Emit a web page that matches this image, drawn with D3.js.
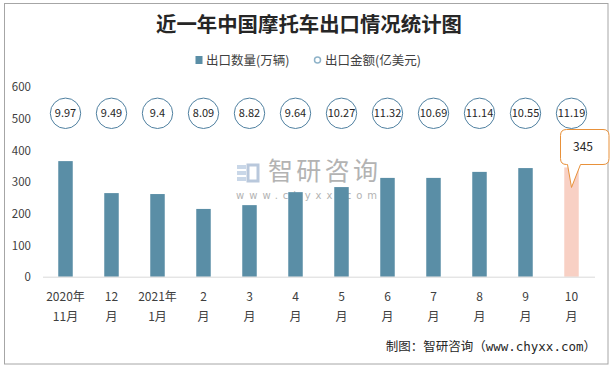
<!DOCTYPE html>
<html><head><meta charset="utf-8">
<script src="https://cdn.jsdelivr.net/npm/d3@7"></script>
<style>body{margin:0;background:#fff}svg{display:block}</style>
</head><body>
<script>
const categories = [["2020年","11月"],["12","月"],["2021年","1月"],["2","月"],["3","月"],["4","月"],["5","月"],["6","月"],["7","月"],["8","月"],["9","月"],["10","月"]];
const volume = [365, 264, 261, 214, 226, 267, 283, 312, 312, 331, 343, 345];
const amount = [9.97, 9.49, 9.4, 8.09, 8.82, 9.64, 10.27, 11.32, 10.69, 11.14, 10.55, 11.19];
const yTicks = [0, 100, 200, 300, 400, 500, 600];
const amountRow = 516;
const title = "近一年中国摩托车出口情况统计图";
const legendLabels = ["出口数量(万辆)", "出口金额(亿美元)"];
const source = "制图：智研咨询（www.chyxx.com）";

const W = 613, H = 368;
const svg = d3.select("body").append("svg").attr("width", W).attr("height", H);
const font = "'Microsoft YaHei','Noto Sans CJK SC',sans-serif";

svg.append("rect").attr("x", 4.5).attr("y", 3.5).attr("width", 603.5).attr("height", 360.5)
  .attr("fill", "#fff").attr("stroke", "#a6a6a6").attr("stroke-width", 1);

const x = d3.scaleBand().domain(d3.range(categories.length)).range([42.5, 594.5]).paddingInner(0.685).paddingOuter(0.3425);
const y = d3.scaleLinear().domain([0, 600]).range([276.7, 86.7]);

// watermark
const wm = svg.append("g");
wm.append("rect").attr("x", 237).attr("y", 165).attr("width", 9).attr("height", 4).attr("fill", "#c9d7e8");
wm.append("rect").attr("x", 237).attr("y", 171).attr("width", 9).attr("height", 4).attr("fill", "#c9d7e8");
wm.append("rect").attr("x", 237).attr("y", 177).attr("width", 9).attr("height", 4).attr("fill", "#c9d7e8");
wm.append("rect").attr("x", 248).attr("y", 165).attr("width", 10).attr("height", 16).attr("fill", "none").attr("stroke", "#b9c8dc").attr("stroke-width", 3);
wm.append("text").attr("x", 268).attr("y", 180).attr("font-family", font).attr("font-size", 25)
  .attr("fill", "#b3b3b3").attr("textLength", 110).text("智研咨询");
wm.append("text").attr("x", 236).attr("y", 199).attr("font-family", "'DejaVu Sans',sans-serif").attr("font-size", 10)
  .attr("fill", "#b3b3b3").attr("textLength", 141).attr("lengthAdjust", "spacing").text("www.chyxx.com");

// title
svg.append("text").attr("x", 309).attr("y", 32).attr("text-anchor", "middle")
  .attr("font-family", "'Noto Sans CJK SC',sans-serif").attr("font-weight", "bold").attr("font-size", 20.4)
  .attr("fill", "#262626").text(title);

// legend
svg.append("rect").attr("x", 195.5).attr("y", 56).attr("width", 7).attr("height", 8).attr("fill", "#5a8ea6");
svg.append("text").attr("x", 206).attr("y", 64.5).attr("font-family", font).attr("font-size", 12.5).attr("fill", "#404040").text(legendLabels[0]);
svg.append("circle").attr("cx", 317.5).attr("cy", 60).attr("r", 3).attr("fill", "#fff").attr("stroke", "#8fb3c9").attr("stroke-width", 1.5);
svg.append("text").attr("x", 325).attr("y", 64.5).attr("font-family", font).attr("font-size", 12.5).attr("fill", "#404040").text(legendLabels[1]);

// y axis
const yAxis = svg.append("g").attr("transform", "translate(31,0)")
  .call(d3.axisLeft(y).tickValues(yTicks).tickSize(0).tickPadding(0));
yAxis.select(".domain").remove();
yAxis.selectAll("text").attr("font-family", font).attr("font-size", 11.5).attr("fill", "#404040").attr("dy", "0.35em");

// bars
svg.append("g").selectAll("rect").data(volume).join("rect")
  .attr("x", (d, i) => x(i)).attr("width", x.bandwidth())
  .attr("y", d => y(d)).attr("height", d => y(0) - y(d))
  .attr("fill", (d, i) => i === volume.length - 1 ? "#f8d0c4" : "#5a8ea6");

// x axis
const xAxis = svg.append("g").attr("transform", `translate(0,${y(0)})`)
  .call(d3.axisBottom(x).tickSize(0).tickFormat(() => ""));
xAxis.select(".domain").attr("stroke", "#d9d9d9");
const xl = svg.append("g").selectAll("text").data(categories).join("text")
  .attr("x", (d, i) => x(i) + x.bandwidth() / 2).attr("y", 301)
  .attr("text-anchor", "middle").attr("font-family", font).attr("font-size", 12).attr("fill", "#404040");
xl.append("tspan").attr("x", (d, i) => x(i) + x.bandwidth() / 2).text(d => d[0]);
xl.append("tspan").attr("x", (d, i) => x(i) + x.bandwidth() / 2).attr("dy", 19.5).text(d => d[1]);

// amount circles
const cg = svg.append("g").selectAll("g").data(amount).join("g")
  .attr("transform", (d, i) => `translate(${x(i) + x.bandwidth() / 2},${y(amountRow)})`);
cg.append("circle").attr("r", 15.2).attr("fill", "#fff").attr("stroke", "#4f80a0").attr("stroke-width", 1);
cg.append("text").attr("text-anchor", "middle").attr("dy", "0.36em").attr("font-family", font)
  .attr("font-size", 11).attr("fill", "#262626").text(d => d);

// callout for last bar
const li = volume.length - 1;
const cx = x(li) + x.bandwidth() / 2;
const tipY = y(volume[li]) + 20;
const bx0 = cx - 11, bx1 = cx + 37.5, by0 = 129.5, by1 = 164.5, r = 6;
const path = d3.path();
path.moveTo(bx0 + r, by0);
path.lineTo(bx1 - r, by0); path.quadraticCurveTo(bx1, by0, bx1, by0 + r);
path.lineTo(bx1, by1 - r); path.quadraticCurveTo(bx1, by1, bx1 - r, by1);
path.lineTo(cx + 9, by1); path.lineTo(cx, tipY); path.lineTo(cx - 4, by1);
path.lineTo(bx0 + r, by1); path.quadraticCurveTo(bx0, by1, bx0, by1 - r);
path.lineTo(bx0, by0 + r); path.quadraticCurveTo(bx0, by0, bx0 + r, by0);
path.closePath();
svg.append("path").attr("d", path.toString()).attr("fill", "#fff").attr("stroke", "#e8913a").attr("stroke-width", 1);
svg.append("text").attr("x", cx + 11.5).attr("y", 147).attr("dy", "0.36em").attr("text-anchor", "middle")
  .attr("font-family", font).attr("font-size", 12).attr("fill", "#262626").text(volume[li]);

// source
svg.append("text").attr("x", 596).attr("y", 351).attr("text-anchor", "end")
  .attr("font-family", "'DejaVu Sans Mono','Noto Sans CJK SC',monospace").attr("font-size", 12.5)
  .attr("fill", "#262626").text(source);
</script>
</body></html>
